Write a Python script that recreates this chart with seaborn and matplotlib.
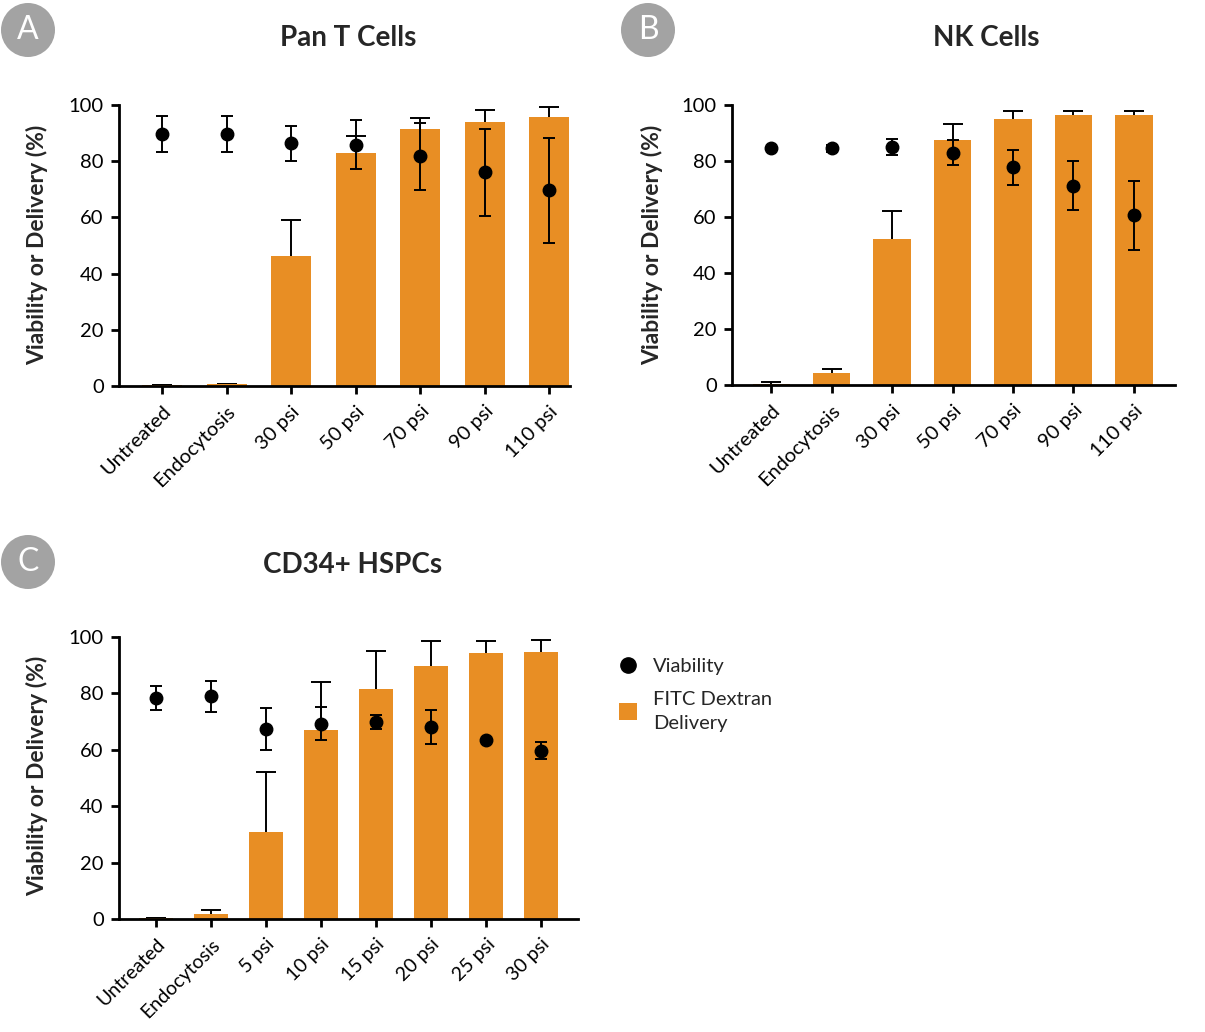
"""
Viability vs FITC dextran delivery for three cell types (panels A-C).
Bars = delivery (%), dots = viability (%), both with error bars.
"""

import matplotlib
matplotlib.use("Agg")
import matplotlib.pyplot as plt
from matplotlib.patches import Circle, Patch
from matplotlib.lines import Line2D
import numpy as np
import pandas as pd
import seaborn as sns

# --- data ---
PAN_T_LABELS = ["Untreated", "Endocytosis", "30 psi", "50 psi", "70 psi", "90 psi", "110 psi"]
PAN_T_DELIVERY = [0.2, 0.6, 46.2, 83.0, 91.5, 94.0, 95.9]
PAN_T_DELIVERY_ERR = [0.0, 0.0, 12.8, 5.9, 3.9, 4.3, 3.3]
PAN_T_VIABILITY = [89.8, 89.8, 86.4, 85.9, 81.7, 76.0, 69.6]
PAN_T_VIABILITY_ERR = [6.4, 6.4, 6.2, 8.8, 12.0, 15.6, 18.6]

NK_LABELS = ["Untreated", "Endocytosis", "30 psi", "50 psi", "70 psi", "90 psi", "110 psi"]
NK_DELIVERY = [0.35, 4.3, 52.0, 87.6, 95.1, 96.4, 96.4]
NK_DELIVERY_ERR = [0.7, 1.3, 10.1, 5.5, 2.8, 1.5, 1.6]
NK_VIABILITY = [84.5, 84.5, 85.1, 83.0, 77.8, 71.2, 60.6]
NK_VIABILITY_ERR = [0.0, 1.3, 2.9, 4.5, 6.2, 8.8, 12.3]

CD34_LABELS = ["Untreated", "Endocytosis", "5 psi", "10 psi", "15 psi", "20 psi", "25 psi", "30 psi"]
CD34_DELIVERY = [0.3, 1.8, 31.0, 66.9, 81.6, 89.6, 94.2, 94.7]
CD34_DELIVERY_ERR = [0.0, 1.3, 21.1, 17.2, 13.6, 9.0, 4.4, 4.4]
CD34_VIABILITY = [78.5, 79.0, 67.4, 69.3, 69.9, 68.2, 63.4, 59.7]
CD34_VIABILITY_ERR = [4.3, 5.5, 7.6, 5.8, 2.4, 6.0, 0.0, 3.0]

ORANGE = "#E88E24"
BADGE_GREY = "#A3A3A3"

sns.set_style("ticks")
plt.rcParams["font.family"] = ["Lato", "DejaVu Sans"]

W, H = 1205, 1032
fig = plt.figure(figsize=(W / 100, H / 100), dpi=100)


def px_axes(left, top, right, bottom):
    """Axes placed by pixel edges of the reference image."""
    return fig.add_axes([left / W, 1 - bottom / H, (right - left) / W, (bottom - top) / H])


def draw_panel(ax, labels, delivery, delivery_err, viability, viability_err, xpad, tick_size=14.5):
    df = pd.DataFrame({"condition": labels, "delivery": delivery})
    sns.barplot(data=df, x="condition", y="delivery", color=ORANGE, saturation=1,
                width=0.62, errorbar=None, linewidth=0, zorder=2, ax=ax)
    x = np.arange(len(labels))
    # delivery error bars sit behind the bars so only the upper half shows
    ax.errorbar(x, delivery, yerr=delivery_err, fmt="none", ecolor="black",
                elinewidth=1.4, capsize=7.5, capthick=1.4, zorder=1.5)
    ax.errorbar(x, viability, yerr=viability_err, fmt="o", color="black", markersize=9,
                elinewidth=1.4, capsize=4.3, capthick=1.4, zorder=4)

    ax.set_ylim(0, 100)
    ax.set_yticks(range(0, 101, 20))
    ax.set_xlim(-xpad[0], len(labels) - 1 + xpad[1])
    ax.set_xlabel("")
    ax.set_ylabel("")
    ax.set_xticks(x)
    ax.set_xticklabels(labels, rotation=45, ha="right", rotation_mode="anchor")
    sns.despine(ax=ax)
    for side in ("left", "bottom"):
        ax.spines[side].set_linewidth(2)
        ax.spines[side].set_color("black")
    ax.tick_params(axis="both", length=6, width=2, color="black", labelcolor="black")
    ax.tick_params(axis="y", labelsize=14.5, pad=5)
    ax.tick_params(axis="x", labelsize=tick_size, pad=6)


ax_a = px_axes(119, 105, 570, 386)
draw_panel(ax_a, PAN_T_LABELS, PAN_T_DELIVERY, PAN_T_DELIVERY_ERR,
           PAN_T_VIABILITY, PAN_T_VIABILITY_ERR, xpad=(0.67, 0.32))

ax_b = px_axes(732, 105, 1175, 385)
draw_panel(ax_b, NK_LABELS, NK_DELIVERY, NK_DELIVERY_ERR,
           NK_VIABILITY, NK_VIABILITY_ERR, xpad=(0.65, 0.68))

ax_c = px_axes(119, 637, 578, 919)
draw_panel(ax_c, CD34_LABELS, CD34_DELIVERY, CD34_DELIVERY_ERR,
           CD34_VIABILITY, CD34_VIABILITY_ERR, xpad=(0.67, 0.67), tick_size=14)

# panel titles and y labels
for x, y, title in [(348, 38, "Pan T Cells"), (986, 38, "NK Cells"), (353, 565, "CD34+ HSPCs")]:
    fig.text(x / W, 1 - y / H, title, ha="center", va="center", fontsize=20, fontweight="bold")

for x, y in [(37, 245), (652, 245), (37, 776)]:
    fig.text(x / W, 1 - y / H, "Viability or Delivery (%)", ha="center", va="center",
             rotation=90, fontsize=16.5, fontweight="bold")

# grey letter badges
for x, y, letter in [(28, 30, "A"), (648, 30, "B"), (28, 562, "C")]:
    fig.add_artist(Circle((x / 100, (H - y) / 100), 0.27, transform=fig.dpi_scale_trans,
                          facecolor=BADGE_GREY, edgecolor="none"))
    fig.text(x / W, 1 - y / H, letter, ha="center", va="center", fontsize=23, color="white")

handles = [
    Line2D([], [], marker="o", color="black", linestyle="none", markersize=11),
    Patch(facecolor=ORANGE, edgecolor="none"),
]
legend = fig.legend(handles, ["Viability", "FITC Dextran\nDelivery"], loc="upper left",
                    bbox_to_anchor=(601 / W, 1 - 639 / H), frameon=False, fontsize=14.5,
                    handlelength=0.9, handleheight=0.9, handletextpad=0.8, labelspacing=0.75,
                    prop={"size": 14.5})
for txt in legend.get_texts():
    txt.set_linespacing(1.55)

fig.savefig("out.png", dpi=100)
plt.close(fig)
